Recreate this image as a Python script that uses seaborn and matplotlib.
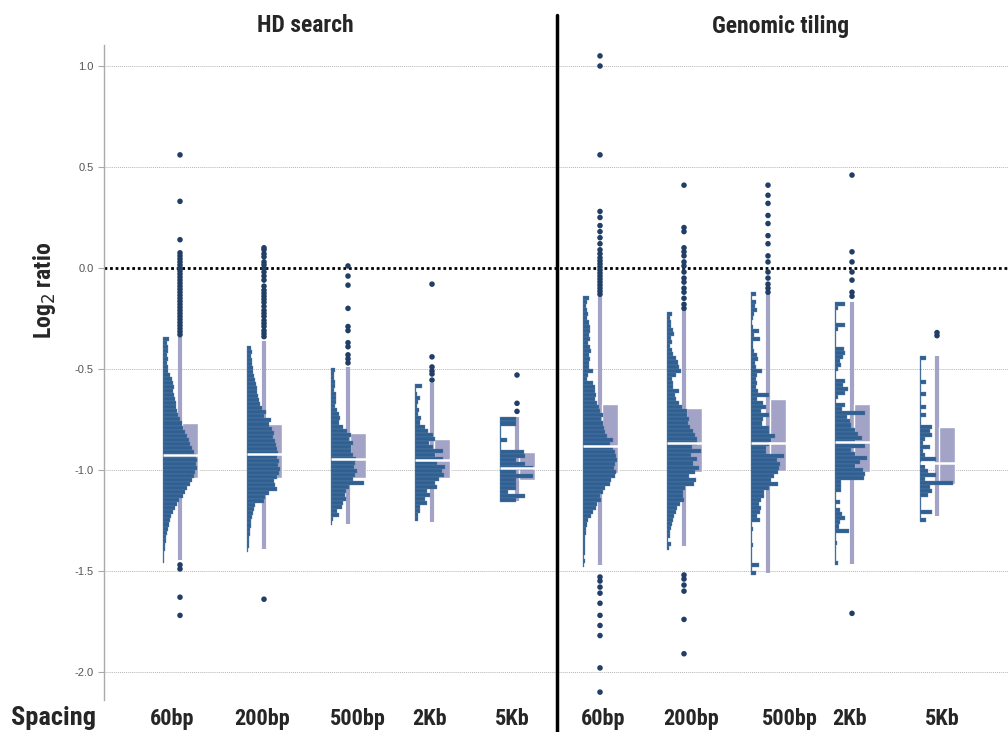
import pandas as pd
import matplotlib.pyplot as plt
import seaborn as sns

sns.set_style("white")
plt.rcParams['font.family'] = ['Liberation Sans', 'DejaVu Sans']
NARROW = ['Liberation Sans Narrow', 'DejaVu Sans Condensed', 'Roboto Condensed',
          'Open Sans Condensed', 'DejaVu Sans']

# --- data (log2 ratio, bin width 0.02, counts listed top bin -> bottom bin) ---
groups = ['HD 60bp', 'HD 200bp', 'HD 500bp', 'HD 2Kb', 'HD 5Kb',
          'GT 60bp', 'GT 200bp', 'GT 500bp', 'GT 2Kb', 'GT 5Kb']
spacing_labels = ['60bp', '200bp', '500bp', '2Kb', '5Kb',
                  '60bp', '200bp', '500bp', '2Kb', '5Kb']
bin_width = 0.02
hist_top = [-0.34, -0.385, -0.495, -0.575, -0.74, -0.14, -0.218, -0.12, -0.17, -0.436]

hd_60 = [6, 4, 5, 5, 4, 5, 4, 5, 5, 7, 9, 10, 11, 10, 11, 12, 13, 13, 14, 15, 17, 19, 20, 22, 24, 26,
         27, 29, 31, 33, 34, 33, 34, 32, 31, 29, 27, 24, 22, 20, 16, 14, 12, 10, 8, 7, 6, 5, 4, 3,
         3, 2, 2, 1, 1, 1]
hd_200 = [4, 5, 4, 5, 5, 6, 6, 7, 8, 9, 10, 10, 11, 12, 13, 15, 19, 17, 24, 22, 25, 27, 26, 28, 29,
          30, 31, 30, 32, 31, 33, 32, 30, 27, 28, 30, 22, 18, 17, 8, 7, 6, 5, 4, 4, 3, 3, 2, 2, 2, 1]
hd_500 = [4, 3, 3, 4, 4, 3, 5, 5, 5, 4, 6, 8, 9, 8, 12, 16, 20, 18, 22, 20, 20, 22, 25, 24, 23, 26,
          24, 22, 33, 18, 15, 14, 15, 12, 11, 6, 8, 2, 1]
hd_2k = [7, 1, 2, 5, 3, 2, 4, 3, 6, 5, 10, 13, 18, 20, 14, 18, 28, 20, 28, 22, 30, 27, 29, 24, 20,
         22, 12, 15, 10, 12, 5, 5, 3, 3]
hd_5k = [16, 16, 1, 1, 1, 7, 1, 1, 24, 25, 16, 25, 33, 16, 33, 16, 16, 16, 8, 25, 16]
gt_60 = [6, 4, 3, 4, 5, 4, 6, 7, 7, 6, 7, 5, 7, 8, 6, 7, 6, 6, 10, 5, 4, 10, 12, 12, 13, 12, 14, 16,
         17, 20, 18, 20, 21, 22, 24, 30, 27, 30, 32, 33, 34, 32, 31, 33, 32, 28, 27, 22, 20, 17,
         18, 14, 13, 10, 8, 5, 4, 3, 3, 2, 2, 2, 2, 2, 1, 2, 1]
gt_200 = [5, 3, 4, 4, 6, 7, 4, 5, 3, 5, 6, 9, 11, 12, 14, 9, 5, 6, 6, 12, 8, 9, 12, 15, 20, 20, 22,
          21, 23, 26, 28, 30, 30, 25, 34, 24, 30, 26, 32, 28, 22, 29, 27, 18, 16, 16, 17, 13, 10,
          9, 7, 6, 5, 4, 3, 3, 1, 4, 2]
gt_500 = [5, 1, 5, 4, 6, 3, 2, 1, 2, 8, 3, 9, 2, 2, 3, 6, 7, 4, 5, 11, 6, 5, 6, 5, 7, 18, 6, 12, 15,
          10, 18, 12, 11, 18, 18, 24, 20, 18, 15, 15, 33, 26, 29, 28, 27, 23, 20, 27, 18, 13, 13,
          10, 8, 10, 9, 6, 9, 1, 2, 1, 1, 1, 2, 1, 1, 1, 1, 8, 1, 5]
gt_2k = [10, 3, 1, 1, 1, 10, 3, 1, 1, 1, 1, 9, 10, 8, 5, 6, 3, 1, 1, 10, 8, 13, 10, 3, 1, 10, 7,
         30, 12, 15, 16, 20, 23, 27, 20, 30, 16, 20, 32, 25, 20, 28, 30, 29, 6, 6, 6, 1, 1, 5, 1,
         5, 7, 10, 5, 4, 14, 1, 1, 2, 1, 1, 1, 1, 3]
gt_5k = [6, 1, 1, 1, 1, 1, 6, 1, 1, 6, 1, 1, 6, 1, 6, 1, 1, 12, 10, 12, 5, 3, 10, 3, 5, 16, 1, 5, 8,
         16, 5, 33, 10, 12, 8, 1, 1, 1, 12, 1, 6]
hist_counts = [hd_60, hd_200, hd_500, hd_2k, hd_5k, gt_60, gt_200, gt_500, gt_2k, gt_5k]

# box summaries
q3 = [-0.767, -0.772, -0.817, -0.847, -0.91, -0.673, -0.693, -0.648, -0.673, -0.787]
median = [-0.926, -0.92, -0.945, -0.95, -0.99, -0.88, -0.866, -0.865, -0.86, -0.965]
q1 = [-1.04, -1.04, -1.04, -1.04, -1.05, -1.014, -1.01, -1.005, -1.01, -1.07]
whisker_hi = [-0.34, -0.36, -0.49, -0.57, -0.74, -0.14, -0.21, -0.12, -0.17, -0.436]
whisker_lo = [-1.445, -1.39, -1.267, -1.257, -1.155, -1.47, -1.375, -1.51, -1.465, -1.23]

# outliers
out_hd_60 = [0.56, 0.33, 0.14, 0.075, 0.06, 0.045, 0.03, 0.015, 0.0, -0.015, -0.03, -0.045, -0.06,
             -0.075, -0.09, -0.105, -0.12, -0.135, -0.15, -0.165, -0.18, -0.195, -0.21, -0.225,
             -0.24, -0.255, -0.27, -0.285, -0.3, -0.315, -0.33, -1.47, -1.49, -1.63, -1.72]
out_hd_200 = [0.10, 0.09, 0.07, 0.055, 0.03, 0.016, 0.0, -0.02, -0.04, -0.06, -0.09, -0.11, -0.125,
              -0.14, -0.155, -0.17, -0.19, -0.21, -0.225, -0.24, -0.26, -0.275, -0.29, -0.31,
              -0.325, -0.34, -1.64]
out_hd_500 = [0.01, -0.04, -0.085, -0.20, -0.29, -0.31, -0.37, -0.39, -0.43, -0.45, -0.47]
out_hd_2k = [-0.08, -0.44, -0.49, -0.51, -0.525, -0.555]
out_hd_5k = [-0.53, -0.67, -0.71]
out_gt_60 = [1.05, 1.0, 0.56, 0.28, 0.25, 0.21, 0.18, 0.15, 0.12, 0.09, 0.07, 0.05, 0.035, 0.02,
             0.005, -0.01, -0.025, -0.04, -0.055, -0.07, -0.085, -0.1, -0.115, -0.13,
             -1.53, -1.55, -1.58, -1.61, -1.66, -1.72, -1.77, -1.82, -1.98, -2.1]
out_gt_200 = [0.41, 0.2, 0.18, 0.1, 0.08, 0.06, 0.03, 0.01, -0.02, -0.05, -0.07, -0.1, -0.12, -0.15,
              -0.18, -0.2, -1.52, -1.54, -1.57, -1.6, -1.74, -1.91]
out_gt_500 = [0.41, 0.36, 0.32, 0.26, 0.22, 0.16, 0.12, 0.06, 0.03, -0.02, -0.05, -0.08, -0.1, -0.12]
out_gt_2k = [0.46, 0.08, 0.03, -0.02, -0.06, -0.12, -0.14, -1.71]
out_gt_5k = [-0.32, -0.335]
outliers = [out_hd_60, out_hd_200, out_hd_500, out_hd_2k, out_hd_5k,
            out_gt_60, out_gt_200, out_gt_500, out_gt_2k, out_gt_5k]

# --- layout (x axis in pixel-like units) ---
baseline_x = [163, 247, 331, 415, 500, 583, 667, 751, 835, 920]
label_x = [172, 262, 358, 430, 512, 603, 691, 790, 850, 942]
whisk_off, box_l, box_r = 17, 19, 35

BAR_C = '#305f91'
BOX_C = '#a2a3c6'
DOT_C = '#213f66'

fig = plt.figure(figsize=(10.08, 7.32), dpi=100)
ax = fig.add_axes([104 / 1008, 32 / 732, 904 / 1008, 655 / 732])
ax.set_xlim(104, 1008)
ax.set_ylim(-2.139, 1.104)

yt = [-2.0, -1.5, -1.0, -0.5, 0.0, 0.5, 1.0]
for v in yt:
    if v != 0:
        ax.axhline(v, color='#b5b5b5', lw=0.7, ls=(0, (1, 1)), zorder=0)
ax.axhline(0, color='black', lw=2.0, ls=(0, (1, 1)), zorder=1)

rows = []
for i, g in enumerate(groups):
    b = baseline_x[i]
    # whisker and box
    ax.vlines(b + whisk_off, whisker_lo[i], whisker_hi[i], color=BOX_C, lw=3, zorder=2)
    ax.bar(b + (box_l + box_r) / 2, q3[i] - q1[i], bottom=q1[i], width=box_r - box_l,
           color=BOX_C, zorder=2)
    # horizontal histogram
    counts = hist_counts[i]
    centers = [hist_top[i] - (k + 0.5) * bin_width for k in range(len(counts))]
    ax.barh(centers, counts, left=b, height=bin_width, color=BAR_C,
            edgecolor='#5f82aa', linewidth=0.25, zorder=3)
    ax.hlines(median[i], b, b + box_r, color='white', lw=1.8, zorder=4)
    for v in outliers[i]:
        rows.append({'group': g, 'x': b + whisk_off, 'value': v})

df_out = pd.DataFrame(rows)
sns.scatterplot(data=df_out, x='x', y='value', color=DOT_C, s=16, edgecolor='none',
                zorder=5, ax=ax, legend=False)

for s in ['top', 'right', 'bottom']:
    ax.spines[s].set_visible(False)
ax.spines['left'].set_color('#aaaaaa')
ax.spines['left'].set_linewidth(1.0)
ax.set_xticks([])
ax.set_yticks(yt)
ax.set_yticklabels([f'{v:.1f}' for v in yt], fontsize=8, color='#555555')
ax.tick_params(axis='y', length=4, color='#aaaaaa', left=True)
ax.set_xlabel('')
ax.set_ylabel('')

# separator between panels
fig.add_artist(plt.Line2D([557 / 1008, 557 / 1008], [0, 1 - 15 / 732],
                          transform=fig.transFigure, color='black', lw=2.5))

txt = dict(fontweight='bold', family=NARROW, fontstretch='condensed', ha='center', va='center')
fig.text(305 / 1008, 1 - 26 / 732, 'HD search', fontsize=17, **txt)
fig.text(781 / 1008, 1 - 26 / 732, 'Genomic tiling', fontsize=17, **txt)
fig.text(45 / 1008, 1 - 290 / 732, 'Log$_2$ ratio', rotation=90, fontsize=17, **txt)
fig.text(53 / 1008, 1 - 718 / 732, 'Spacing', fontsize=19, **txt)
for x, lab in zip(label_x, spacing_labels):
    fig.text(x / 1008, 1 - 719 / 732, lab, fontsize=16, **txt)

fig.savefig('out.png', dpi=100)
